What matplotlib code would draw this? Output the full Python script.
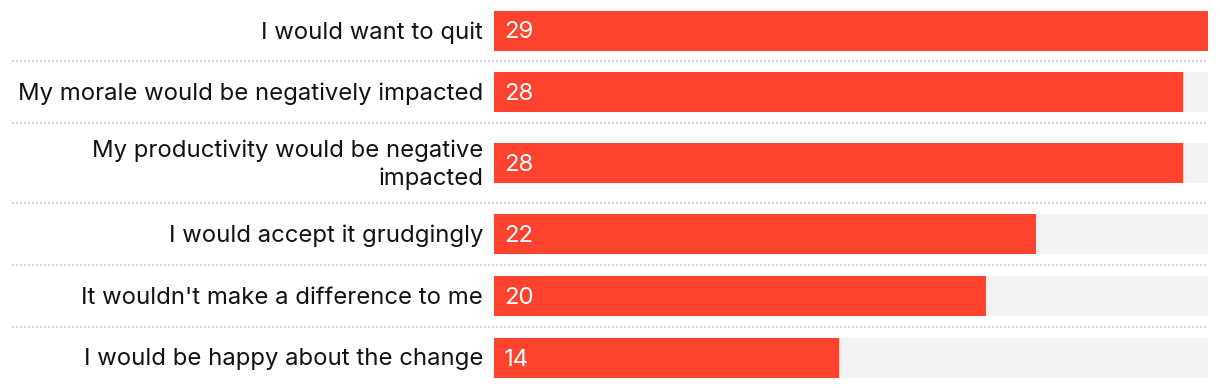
import matplotlib
matplotlib.use("Agg")
import matplotlib.pyplot as plt
import matplotlib.transforms as mtransforms
import numpy as np

# data
labels = [
    "I would want to quit",
    "My morale would be negatively impacted",
    "My productivity would be negative\nimpacted",
    "I would accept it grudgingly",
    "It wouldn't make a difference to me",
    "I would be happy about the change",
]
values = [29, 28, 28, 22, 20, 14]

RED = "#ff432e"
TRACK = "#f2f2f2"
plt.rcParams["font.family"] = ["Inter", "DejaVu Sans"]

W, H = 1220, 388
fig = plt.figure(figsize=(W / 100, H / 100), dpi=100)
ax = fig.add_axes([494 / W, 0, 714 / W, 1])

# row heights (px): taller row for the two-line label
row_h = np.array([80 if "\n" in l else 62 for l in labels], dtype=float)
row_h[0] -= 1
row_h[-1] -= 1
edges = np.concatenate([[0], np.cumsum(row_h)])
centers = (edges[:-1] + edges[1:]) / 2

vmax = max(values)
ax.barh(centers, [vmax] * len(values), height=40, color=TRACK, zorder=1)
ax.barh(centers, values, height=40, color=RED, zorder=2)
ax.set_xlim(0, vmax)
ax.set_ylim(edges[-1], 0)
ax.axis("off")

for y, lab, v in zip(centers, labels, values):
    ax.annotate(lab, (0, y), xytext=(-11, -2), textcoords="offset pixels",
                ha="right", va="center", fontsize=17.2, color="#111111",
                linespacing=1.3)
    ax.annotate(str(v), (0, y), xytext=(10, -2), textcoords="offset pixels",
                ha="left", va="center", fontsize=17.2, color="white", zorder=3)

trans = mtransforms.blended_transform_factory(fig.transFigure, ax.transData)
for e in edges[1:-1]:
    ax.plot([12 / W, 1208 / W], [e, e], transform=trans, color="#d4d4d4",
            lw=1.44, linestyle=(0, (1, 1)), dash_capstyle="butt", clip_on=False)

fig.savefig("out.png", dpi=100)
